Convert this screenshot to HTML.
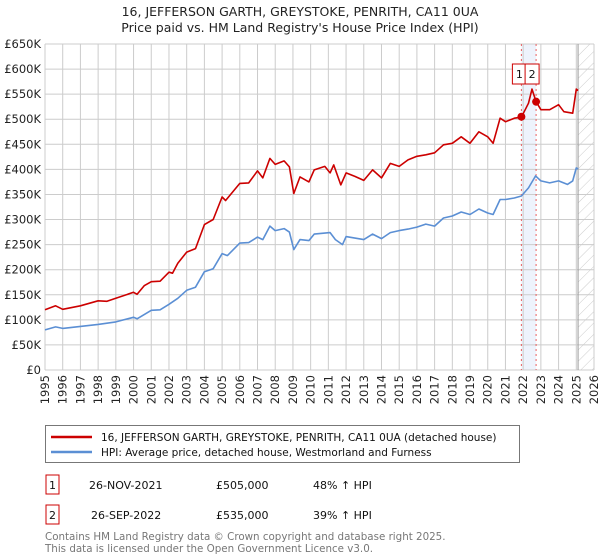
<!DOCTYPE html>
<html><head><meta charset="utf-8"><style>
body{margin:0;background:#fff;font-family:"Liberation Sans","DejaVu Sans",sans-serif;}
#wrap{position:relative;width:600px;height:560px;overflow:hidden;}
svg text{font-family:"DejaVu Sans","Liberation Sans",sans-serif;}
</style></head><body>
<div id="wrap">
<svg id="chart" width="600" height="560">
<text x="300" y="16" text-anchor="middle" font-size="12.5" fill="#222">16, JEFFERSON GARTH, GREYSTOKE, PENRITH, CA11 0UA</text>
<text x="300" y="32" text-anchor="middle" font-size="12.5" fill="#222">Price paid vs. HM Land Registry's House Price Index (HPI)</text>
<g id="grid"></g><g id="marks"></g>
<g>
<rect x="45.5" y="425.5" width="474" height="37" fill="#fff" stroke="#777"/>
<line x1="51" y1="437" x2="92" y2="437" stroke="#cc0000" stroke-width="2.5"/>
<text x="101" y="441" font-size="10.5" fill="#111">16, JEFFERSON GARTH, GREYSTOKE, PENRITH, CA11 0UA (detached house)</text>
<line x1="51" y1="452" x2="92" y2="452" stroke="#5b8fd4" stroke-width="2.5"/>
<text x="101" y="456" font-size="10.5" fill="#111">HPI: Average price, detached house, Westmorland and Furness</text>
</g>
<g font-size="11" fill="#111">
<rect x="46" y="475" width="13" height="19" fill="#fff" stroke="#cc0000"/><text x="52.5" y="489" text-anchor="middle">1</text>
<text x="89" y="489">26-NOV-2021</text>
<text x="216" y="489">£505,000</text>
<text x="313" y="489">48% ↑ HPI</text>
<rect x="46" y="505" width="13" height="19" fill="#fff" stroke="#cc0000"/><text x="52.5" y="519" text-anchor="middle">2</text>
<text x="91" y="519">26-SEP-2022</text>
<text x="216" y="519">£535,000</text>
<text x="313" y="519">39% ↑ HPI</text>
</g>
<text x="45" y="540" font-size="10.3" fill="#777">Contains HM Land Registry data © Crown copyright and database right 2025.</text>
<text x="45" y="552" font-size="10.3" fill="#777">This data is licensed under the Open Government Licence v3.0.</text>
</svg>
</div>
<script>
const hpiYears=[1995,1995.6,1996,1997,1998,1999,2000,2000.2,2001,2001.5,2002,2002.5,2003,2003.5,2004,2004.5,2005,2005.3,2006,2006.5,2007,2007.3,2007.7,2008,2008.5,2008.8,2009.05,2009.4,2009.9,2010.2,2010.8,2011.1,2011.4,2011.8,2012,2012.5,2013,2013.5,2014,2014.5,2015,2015.5,2016,2016.5,2017,2017.5,2018,2018.5,2019,2019.5,2020,2020.3,2020.7,2021,2021.5,2021.9,2022.3,2022.7,2023,2023.5,2024,2024.5,2024.8,2025,2025.1];
const hpiValues=[80,86,83,87,91,96,105,102,119,120,131,143,159,165,196,202,232,228,253,254,265,260,287,278,282,275,240,260,258,271,273,274,260,250,266,263,260,271,262,274,278,281,285,291,287,303,307,315,310,321,313,310,340,340,343,347,363,387,377,373,377,370,377,403,401];
const priceYears=[1995,1995.6,1996,1997,1998,1998.5,1999,2000,2000.2,2000.6,2001,2001.5,2002,2002.2,2002.5,2003,2003.5,2004,2004.5,2005,2005.2,2006,2006.5,2007,2007.3,2007.7,2008,2008.5,2008.8,2009.05,2009.4,2009.9,2010.2,2010.8,2011.1,2011.3,2011.7,2012,2012.5,2013,2013.5,2014,2014.5,2015,2015.5,2016,2016.5,2017,2017.5,2018,2018.5,2019,2019.5,2020,2020.3,2020.7,2021,2021.5,2021.9,2022.3,2022.5,2022.73,2023,2023.5,2024,2024.3,2024.8,2025,2025.1];
const priceValues=[120,128,121,128,138,137,143,155,151,168,176,177,195,193,213,235,242,290,300,345,338,372,373,397,383,422,410,417,405,352,385,375,399,406,393,409,369,393,386,378,399,383,412,406,419,426,429,433,449,452,465,452,475,465,452,502,495,502,504,532,560,535,519,519,529,515,512,560,557];
const saleYears=[2021.9,2022.73];
const saleValues=[505,535];
const saleLabels=["1","2"];
const yTicks=[0,50,100,150,200,250,300,350,400,450,500,550,600,650];
const yTickLabels=["£0","£50K","£100K","£150K","£200K","£250K","£300K","£350K","£400K","£450K","£500K","£550K","£600K","£650K"];
const xTicks=[1995,1996,1997,1998,1999,2000,2001,2002,2003,2004,2005,2006,2007,2008,2009,2010,2011,2012,2013,2014,2015,2016,2017,2018,2019,2020,2021,2022,2023,2024,2025,2026];

const X0=45,X1=594,Y0=370,Y1=44,NS="http://www.w3.org/2000/svg";
const xs=y=>X0+(y-1995)/31*(X1-X0);
const ys=v=>Y0-v/650*(Y0-Y1);
function mk(t,a,p){const e=document.createElementNS(NS,t);for(const k in a)e.setAttribute(k,a[k]);p.appendChild(e);return e;}
const grid=document.getElementById('grid'),marks=document.getElementById('marks');
mk('rect',{x:xs(saleYears[0]),y:Y1,width:xs(saleYears[1])-xs(saleYears[0]),height:Y0-Y1,fill:'#eef3fc'},grid);
const hx=xs(2025.1);
const defs=mk('defs',{},grid);
const pat=mk('pattern',{id:'hatch',width:8,height:8,patternUnits:'userSpaceOnUse',patternTransform:'rotate(45)'},defs);
mk('line',{x1:0,y1:0,x2:0,y2:8,stroke:'#ccc','stroke-width':1},pat);
mk('rect',{x:hx,y:Y1,width:X1-hx,height:Y0-Y1,fill:'url(#hatch)'},grid);
yTicks.forEach((v,i)=>{
 const l=mk('line',{x1:X0,x2:X1,y1:ys(v),y2:ys(v),stroke:'#ccc'},grid);
 
 
 const t=mk('text',{x:X0-4,y:ys(v)+4,'text-anchor':'end','font-size':'11.5',fill:'#222'},grid);
 t.textContent=yTickLabels[i];
 
 
});
xTicks.forEach(yr=>{
 const l=mk('line',{x1:xs(yr),x2:xs(yr),y1:Y1,y2:Y0,stroke:'#ccc'},grid);
 
 
 const t=mk('text',{x:xs(yr)+4,y:Y0+5,'text-anchor':'end','font-size':'11.5',fill:'#222',transform:`rotate(-90 ${xs(yr)+4} ${Y0+5})`},grid);
 t.textContent=String(yr);
 
 
});
mk('line',{x1:hx,x2:hx,y1:Y1,y2:Y0,stroke:'#999','stroke-width':1},grid);
saleYears.forEach(yr=>{
 const l=mk('line',{x1:xs(yr),x2:xs(yr),y1:Y1,y2:Y0,stroke:'#e86060','stroke-dasharray':'2,3'},grid);
 
 
});
function line(xa,va,color,name){
 const d=xa.map((y,i)=>(i?'L':'M')+xs(y).toFixed(1)+','+ys(va[i]).toFixed(1)).join('');
 const p=mk('path',{d:d,fill:'none',stroke:color,'stroke-width':1.6,'stroke-linejoin':'round'},marks);
 
 
}
line(hpiYears,hpiValues,'#5b8fd4','hpi-line');
line(priceYears,priceValues,'#cc0000','property-price-line');
saleYears.forEach((yr,i)=>{
 const c=mk('circle',{cx:xs(yr),cy:ys(saleValues[i]),r:4,fill:'#cc0000'},marks);
 
 
 const bx=i===0?xs(yr)-9:xs(yr)-11;
 const r=mk('rect',{x:bx,y:64,width:14,height:20,fill:'#fff',stroke:'#cc0000'},marks);
 
 
 const t=mk('text',{x:bx+7,y:78,'text-anchor':'middle','font-size':'11',fill:'#111'},marks);
 t.textContent=saleLabels[i];
 
 
});
</script>
</body></html>
